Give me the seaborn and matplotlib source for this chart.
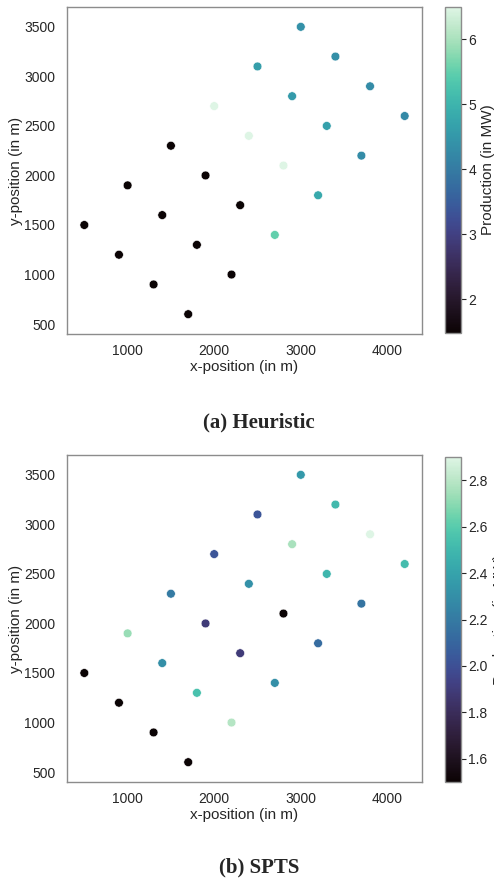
import matplotlib
matplotlib.use("Agg")
import matplotlib.pyplot as plt
import matplotlib as mpl
import seaborn as sns
import pandas as pd

# Turbine layout (metres)
x_pos = [500, 900, 1300, 1700, 1000, 1400, 1800, 2200, 1500, 1900, 2300, 2700,
         2000, 2400, 2800, 3200, 2500, 2900, 3300, 3700, 3000, 3400, 3800, 4200]
y_pos = [1500, 1200, 900, 600, 1900, 1600, 1300, 1000, 2300, 2000, 1700, 1400,
         2700, 2400, 2100, 1800, 3100, 2800, 2500, 2200, 3500, 3200, 2900, 2600]

# Production per turbine (MW)
prod_heuristic = [1.48, 1.48, 1.48, 1.48, 1.48, 1.48, 1.48, 1.48, 1.48, 1.48, 1.48, 5.5,
                  6.5, 6.5, 6.5, 4.8, 4.6, 4.55, 4.65, 4.3, 4.4, 4.35, 4.3, 4.25]
prod_spts = [1.5, 1.5, 1.5, 1.5, 2.73, 2.3, 2.55, 2.79, 2.2, 1.89, 1.89, 2.3,
             2.02, 2.31, 1.5, 2.13, 2.02, 2.76, 2.49, 2.17, 2.35, 2.51, 2.9, 2.52]

titles = ["(a) Heuristic", "(b) SPTS"]

sns.set_style("white")
plt.rcParams["font.family"] = ["Liberation Sans", "DejaVu Sans"]
plt.rcParams["axes.edgecolor"] = "0.55"
plt.rcParams["axes.linewidth"] = 1.0

cmap = sns.color_palette("mako", as_cmap=True)

W, H = 494, 881
fig = plt.figure(figsize=(W / 100, H / 100), dpi=100)


def frac_box(x0, y0, x1, y1):
    return [x0 / W, 1 - y1 / H, (x1 - x0) / W, (y1 - y0) / H]


panels = [
    dict(ax=(67, 7, 422, 334), cb=(445, 7, 460.5, 333), cap_y=422, values=prod_heuristic),
    dict(ax=(67, 455, 422, 782), cb=(445, 457, 460.5, 782), cap_y=867, values=prod_spts),
]

for panel, title in zip(panels, titles):
    df = pd.DataFrame({"x": x_pos, "y": y_pos, "p": panel["values"]})
    vmin, vmax = min(panel["values"]), max(panel["values"])
    ax = fig.add_axes(frac_box(*panel["ax"]))
    sns.scatterplot(data=df, x="x", y="y", hue="p", palette=cmap,
                    hue_norm=(vmin, vmax), s=40, edgecolor="white",
                    linewidth=0.4, legend=False, ax=ax)
    ax.set_xlim(300, 4400)
    ax.set_ylim(400, 3700)
    ax.set_xticks([1000, 2000, 3000, 4000])
    ax.set_yticks([500, 1000, 1500, 2000, 2500, 3000, 3500])
    ax.tick_params(labelsize=10, colors="0.15")
    ax.tick_params(axis="x", pad=4)
    ax.tick_params(axis="y", pad=5)
    ax.set_xlabel("x-position (in m)", fontsize=11, color="0.15", labelpad=1)
    ax.set_ylabel("y-position (in m)", fontsize=11, color="0.15", labelpad=1)

    cax = fig.add_axes(frac_box(*panel["cb"]))
    sm = mpl.cm.ScalarMappable(norm=mpl.colors.Normalize(vmin, vmax), cmap=cmap)
    cb = fig.colorbar(sm, cax=cax)
    cb.outline.set_edgecolor("0.55")
    cb.outline.set_linewidth(1.0)
    cax.tick_params(axis="y", right=True, length=3.5, width=0.8, color="0.15",
                    labelsize=10, labelcolor="0.15", pad=2)
    cb.set_label("Production (in MW)", fontsize=11, color="0.15", labelpad=3.5)

    fig.text(259 / W, 1 - panel["cap_y"] / H, title, ha="center", va="center",
             fontsize=15, fontweight="bold", family=["Liberation Serif", "DejaVu Serif"])

fig.savefig("out.png", dpi=100)
